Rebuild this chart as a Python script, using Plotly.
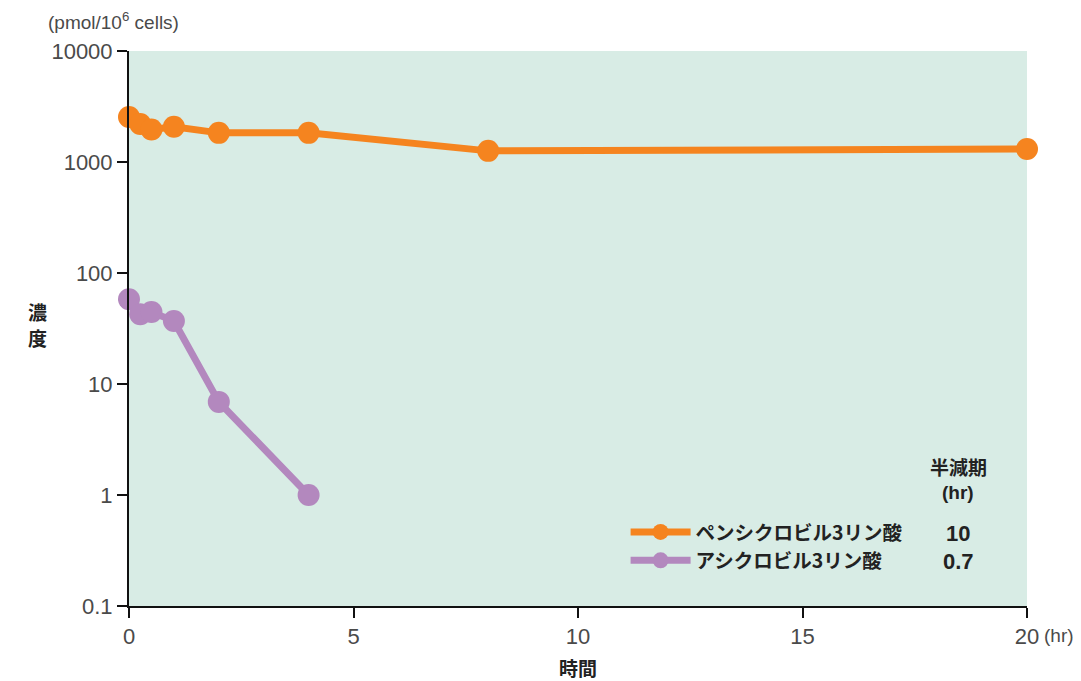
import plotly.graph_objects as go

time_pen = [0, 0.25, 0.5, 1, 2, 4, 8, 20]
conc_pen = [2540, 2200, 1960, 2080, 1830, 1830, 1260, 1310]
time_acv = [0, 0.25, 0.5, 1, 2, 4]
conc_acv = [58, 42.5, 44.5, 37, 6.9, 1.0]
names = ["ペンシクロビル3リン酸", "アシクロビル3リン酸"]
half_lives = ["10", "0.7"]
y_tickvals = [0.1, 1, 10, 100, 1000, 10000]
y_ticktext = ["0.1", "1", "10", "100", "1000", "10000"]
x_tickvals = [0, 5, 10, 15, 20]

ORANGE = "#F5841F"
PURPLE = "#B388BE"
BG = "#D8ECE5"
TXT = "#4a4a4a"
DARK = "#222222"
JP = "Noto Sans CJK JP"
OFF = 8  # default body margin of the page

fig = go.Figure()
for t, c, n, col in [(time_pen, conc_pen, names[0], ORANGE), (time_acv, conc_acv, names[1], PURPLE)]:
    fig.add_trace(go.Scatter(
        x=t, y=c, name=n, mode="lines+markers",
        line=dict(color=col, width=7),
        marker=dict(color=col, size=22),
        cliponaxis=False,
    ))

fig.update_layout(
    width=1081 - OFF, height=681 - OFF,
    margin=dict(l=129 - OFF, r=54, t=51 - OFF, b=75),
    plot_bgcolor=BG, paper_bgcolor="white",
    font=dict(family="Liberation Sans", size=22, color=TXT),
    legend=dict(
        x=0.553, y=0.168, xanchor="left", yanchor="top",
        bgcolor="rgba(0,0,0,0)",
        font=dict(family=JP, size=19.5, color=DARK, weight="bold"),
        itemwidth=60, tracegroupgap=0,
    ),
    showlegend=True,
)
fig.update_xaxes(
    range=[0, 20], tickvals=x_tickvals, showgrid=False, zeroline=False,
    showline=True, linecolor="#111", linewidth=2,
    ticks="outside", ticklen=10, tickwidth=2, tickcolor="#111",
    tickfont=dict(size=22, color=TXT),
)
fig.update_yaxes(
    type="log", range=[-1, 4], tickvals=y_tickvals, ticktext=y_ticktext,
    showgrid=False, zeroline=False,
    showline=True, linecolor="#111", linewidth=2,
    ticks="outside", ticklen=10, tickwidth=2, tickcolor="#111",
    tickfont=dict(size=22, color=TXT),
)

ann = [
    dict(text="(pmol/10<sup>6</sup> cells)", x=46, y=21, font=dict(size=19, color=TXT, family="Liberation Sans"), xanchor="left"),
    dict(text="<b>濃</b>", x=37, y=311, font=dict(size=19, color=DARK, family=JP)),
    dict(text="<b>度</b>", x=37, y=337, font=dict(size=19, color=DARK, family=JP)),
    dict(text="<b>時間</b>", x=578, y=667, font=dict(size=19, color=DARK, family=JP)),
    dict(text="(hr)", x=1059, y=636, font=dict(size=19, color=TXT, family="Liberation Sans")),
    dict(text="<b>半減期</b>", x=958, y=466, font=dict(size=19, color=DARK, family=JP)),
    dict(text="<b>(hr)</b>", x=958, y=492, font=dict(size=19, color=DARK, family="Liberation Sans")),
]
for i, hl in enumerate(half_lives):
    ann.append(dict(text="<b>" + hl + "</b>", x=958, y=533 + 28 * i, font=dict(size=22, color=DARK, family="Liberation Sans")))

for a in ann:
    fig.add_annotation(
        text=a["text"], xref="paper", yref="paper",
        x=(a["x"] - 129) / 898, y=(606 - a["y"]) / 555,
        xanchor=a.get("xanchor", "center"), yanchor="middle",
        showarrow=False, font=a["font"],
    )

fig.write_html("out.html")
